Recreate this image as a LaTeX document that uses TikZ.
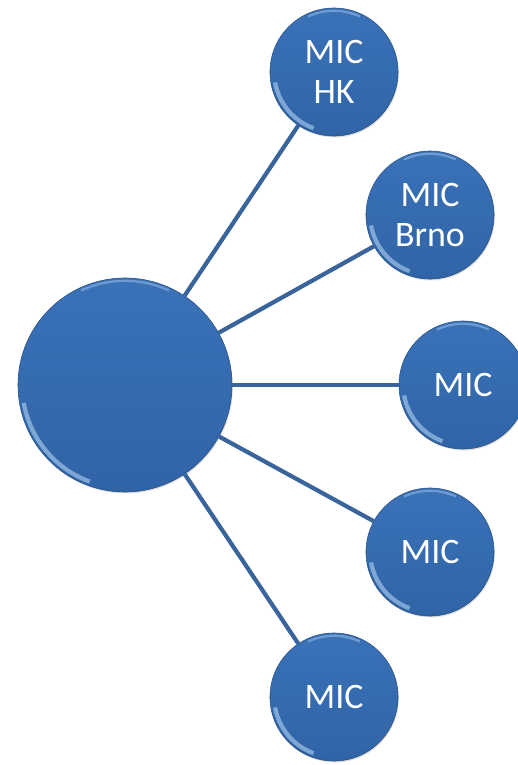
\documentclass[tikz,border=0pt]{standalone}
\usepackage{fontspec}
\setmainfont{Carlito}
\usetikzlibrary{calc, positioning, shadows}
\definecolor{micblue}{RGB}{58,114,184}
\definecolor{micdark}{RGB}{48,100,166}
\definecolor{linkblue}{RGB}{58,101,156}
\definecolor{rimlight}{RGB}{190,220,250}

\begin{document}
\begin{tikzpicture}[x=0.025cm, y=-0.025cm,
    font=\fontsize{25.5}{28.5}\selectfont,
    hub/.style={circle, top color=micblue, bottom color=micdark, draw=micdark!80!black, line width=0.4pt,
      drop shadow={opacity=0.25, shadow xshift=0.6pt, shadow yshift=-1pt},
      path picture={
        \draw[rimlight, opacity=0.55, line width=3pt]
          let \p1=(path picture bounding box.north east), \p2=(path picture bounding box.center),
              \n1={\x1-\x2-3pt} in
          ($(\p2)+(190:\n1)$) arc[start angle=190, end angle=250, radius=\n1];
        \draw[rimlight, opacity=0.4, line width=1.6pt]
          let \p1=(path picture bounding box.north east), \p2=(path picture bounding box.center),
              \n1={\x1-\x2-2pt} in
          ($(\p2)+(65:\n1)$) arc[start angle=65, end angle=115, radius=\n1];
      }},
    sat/.style={hub, minimum size=3.2cm, inner sep=0pt, align=center, text=white},
    link/.style={draw=linkblue, line width=3pt}]
    \path[use as bounding box] (0,0) rectangle (518,765);

    \node[hub, minimum size=5.35cm] (center) at (125,385) {};

    \node[sat] (mic-hk)   at (334,72)  {MIC\\HK};
    \node[sat] (mic-brno) at (430,215) {MIC\\Brno};
    \node[sat] (mic-3)    at (463,385) {MIC};
    \node[sat] (mic-4)    at (430,552) {MIC};
    \node[sat] (mic-5)    at (334,697) {MIC};

    \foreach \m in {mic-hk, mic-brno, mic-3, mic-4, mic-5} {
        \path[link] (center) -- (\m);
    };
\end{tikzpicture}
\end{document}
